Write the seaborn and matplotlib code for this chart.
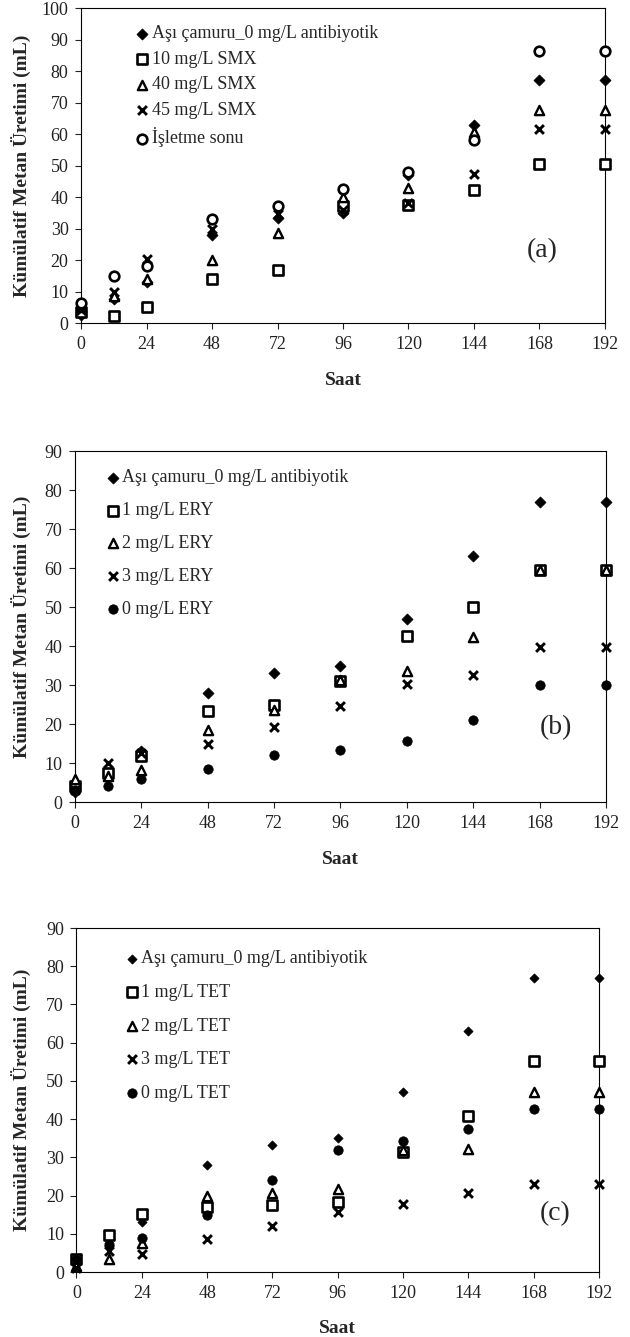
import matplotlib
matplotlib.use("Agg")
import matplotlib.pyplot as plt
import seaborn as sns

hours = [0, 12, 24, 48, 72, 96, 120, 144, 168, 192]
x_ticks = [0, 24, 48, 72, 96, 120, 144, 168, 192]

# ortak kontrol serisi (aşı çamuru)
asi_label = "Aşı çamuru_0 mg/L antibiyotik"
asi_camuru = [2.5, 7.5, 13.0, 28.0, 33.2, 35.0, 47.0, 63.0, 77.0, 77.0]

# (a) SMX
smx_labels = ["10 mg/L SMX", "40 mg/L SMX", "45 mg/L SMX", "İşletme sonu"]
smx_10 = [3.5, 2.3, 5.1, 14.1, 16.9, 37.0, 37.5, 42.2, 50.5, 50.5]
smx_40 = [5.0, 8.5, 14.0, 20.0, 28.6, 40.0, 43.0, 60.5, 67.5, 67.5]
smx_45 = [4.0, 10.0, 20.3, 30.0, 34.5, 36.0, 38.2, 47.3, 61.6, 61.6]
isletme_sonu = [6.5, 14.8, 18.0, 33.0, 37.1, 42.5, 47.8, 58.0, 86.2, 86.2]

# (b) ERY
ery_labels = ["1 mg/L ERY", "2 mg/L ERY", "3 mg/L ERY", "0 mg/L ERY"]
ery_1 = [4.0, 7.4, 11.9, 23.3, 25.0, 31.0, 42.5, 50.0, 59.4, 59.4]
ery_2 = [6.0, 6.8, 8.2, 18.5, 23.5, 31.2, 33.5, 42.3, 59.6, 59.6]
ery_3 = [3.0, 10.0, 12.7, 14.9, 19.2, 24.6, 30.3, 32.5, 39.7, 39.7]
ery_0 = [3.0, 4.2, 5.9, 8.5, 12.1, 13.4, 15.6, 21.1, 30.0, 30.0]

# (c) TET
tet_labels = ["1 mg/L TET", "2 mg/L TET", "3 mg/L TET", "0 mg/L TET"]
tet_1 = [3.5, 9.7, 15.3, 17.0, 17.6, 18.3, 31.5, 40.9, 55.2, 55.2]
tet_2 = [1.5, 3.3, 7.6, 19.8, 20.6, 21.6, 32.0, 32.3, 47.0, 47.0]
tet_3 = [1.0, 5.4, 4.8, 8.7, 12.1, 15.7, 17.8, 20.7, 23.0, 23.0]
tet_0 = [3.5, 7.0, 9.0, 14.8, 24.1, 32.0, 34.4, 37.3, 42.6, 42.6]

sns.set_theme(style="ticks")
plt.rcParams["font.family"] = ["Liberation Serif", "DejaVu Serif"]

diamond = dict(marker="D", color="black", edgecolor="black", s=32, linewidth=0.5)
square = dict(marker="s", color="white", edgecolor="black", s=44, linewidth=1.9)
triangle = dict(marker="^", color="white", edgecolor="black", s=44, linewidth=1.7)
cross = dict(marker="x", color="black", s=40, linewidth=2.1)
circle_open = dict(marker="o", color="white", edgecolor="black", s=48, linewidth=1.9)
circle_full = dict(marker="o", color="black", edgecolor="black", s=46, linewidth=0.5)

fig = plt.figure(figsize=(6.3, 13.37), dpi=100)


def panel(rect, series, labels, styles, ymax, tag, tag_xy, leg_xy, leg_space, ylab_x, xlab_y):
    ax = fig.add_axes(rect)
    for vals, lab, st in zip(series, labels, styles):
        sns.scatterplot(x=hours, y=vals, ax=ax, label=lab, clip_on=False, zorder=3, **st)
    ax.set_xlim(0, 192)
    ax.set_ylim(0, ymax)
    ax.set_xticks(x_ticks)
    ax.set_yticks(range(0, ymax + 1, 10))
    ax.tick_params(direction="out", length=4, width=0.8, labelsize=13,
                   colors="#222222", pad=5)
    for sp in ax.spines.values():
        sp.set_visible(True)
        sp.set_color("black")
        sp.set_linewidth(0.8)
    ax.set_xlabel("Saat", fontsize=14, fontweight="bold")
    ax.set_ylabel("Kümülatif Metan Üretimi (mL)", fontsize=14, fontweight="bold")
    ax.yaxis.set_label_coords(ylab_x, 0.5)
    ax.xaxis.set_label_coords(0.5, xlab_y)
    ax.legend(loc="upper left", bbox_to_anchor=leg_xy, frameon=False,
              handlelength=0.6, handletextpad=0.2, labelspacing=leg_space,
              borderpad=0, borderaxespad=0, fontsize=13, scatterpoints=1)
    ax.text(tag_xy[0], tag_xy[1], tag, fontsize=20, ha="center", va="center")
    return ax


panel([0.1286, 0.7584, 0.8317, 0.2356],
      [asi_camuru, smx_10, smx_40, smx_45, isletme_sonu],
      [asi_label] + smx_labels,
      [diamond, square, triangle, cross, circle_open],
      100, "(a)", (169, 23), (0.107, 0.945), 0.47, -0.0954, -0.155)

panel([0.1190, 0.4001, 0.8429, 0.2625],
      [asi_camuru, ery_1, ery_2, ery_3, ery_0],
      [asi_label] + ery_labels,
      [diamond, square, triangle, cross, circle_full],
      90, "(b)", (174, 19), (0.062, 0.948), 0.88, -0.0829, -0.14)

panel([0.1214, 0.0486, 0.8294, 0.2573],
      [asi_camuru, tet_1, tet_2, tet_3, tet_0],
      [asi_label] + tet_labels,
      [dict(diamond, s=22), square, triangle, cross, circle_full],
      90, "(c)", (176, 15.2), (0.095, 0.935), 0.92, -0.0871, -0.14)

fig.savefig("out.png", dpi=100)
